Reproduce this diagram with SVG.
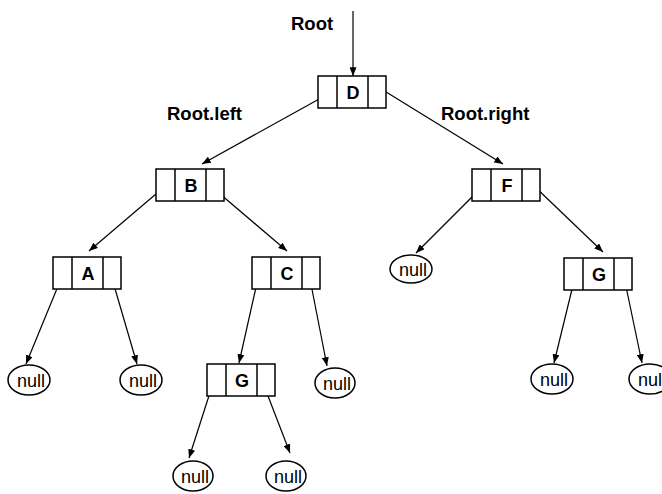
<svg xmlns="http://www.w3.org/2000/svg" width="662" height="494" viewBox="0 0 662 494">
  <defs>
    <marker id="arrow" viewBox="0 0 10 8" refX="10" refY="4" markerWidth="9" markerHeight="7" markerUnits="userSpaceOnUse" orient="auto">
      <path d="M0,0 L10,4 L0,8 Z" fill="#000"/>
    </marker>
    <!-- a tree node: left pointer cell, key cell, right pointer cell -->
    <g id="cell">
      <rect x="0" y="0" width="68" height="32" fill="#fff" stroke="#000" stroke-width="1.5"/>
      <line x1="19" y1="0" x2="19" y2="32" stroke="#000" stroke-width="1.5"/>
      <line x1="50" y1="0" x2="50" y2="32" stroke="#000" stroke-width="1.5"/>
    </g>
  </defs>
  <style>
    .key { font-family: "Liberation Sans", Arial, sans-serif; font-weight: bold; font-size: 18px; text-anchor: middle; }
    .lbl { font-family: "Liberation Sans", Arial, sans-serif; font-weight: bold; font-size: 18.5px; }
    .nul { font-family: "Liberation Sans", Arial, sans-serif; font-size: 18px; text-anchor: middle; }
    .oval { fill: #fff; stroke: #000; stroke-width: 1.5; }
    .edge { stroke: #000; stroke-width: 1.2; fill: none; marker-end: url(#arrow); }
  </style>
  <rect width="662" height="494" fill="#fff"/>

  <!-- labels -->
  <text class="lbl" x="291" y="30">Root</text>
  <text class="lbl" x="167" y="120">Root.left</text>
  <text class="lbl" x="441" y="120">Root.right</text>

  <!-- connectors -->
  <g id="edges">
    <line class="edge" x1="353" y1="11" x2="353" y2="76"/>
    <line class="edge" x1="330" y1="93" x2="202" y2="164"/>
    <line class="edge" x1="378" y1="87" x2="503" y2="164"/>
    <line class="edge" x1="163" y1="188" x2="89" y2="251"/>
    <line class="edge" x1="213" y1="188" x2="287" y2="251"/>
    <line class="edge" x1="63" y1="274" x2="26" y2="364"/>
    <line class="edge" x1="111" y1="275" x2="137" y2="364"/>
    <line class="edge" x1="259" y1="274" x2="239" y2="363"/>
    <line class="edge" x1="309" y1="274" x2="327" y2="366"/>
    <line class="edge" x1="481" y1="188" x2="416" y2="253"/>
    <line class="edge" x1="532" y1="184" x2="603" y2="252"/>
    <line class="edge" x1="575" y1="277" x2="554" y2="363"/>
    <line class="edge" x1="624" y1="277" x2="642" y2="363"/>
    <line class="edge" x1="215" y1="377" x2="189" y2="458"/>
    <line class="edge" x1="263" y1="383" x2="290" y2="453"/>
  </g>

  <!-- tree nodes -->
  <g id="node-D"><use href="#cell" x="318" y="76"/><text class="key" x="353" y="99">D</text></g>
  <g id="node-B"><use href="#cell" x="156" y="169"/><text class="key" x="191" y="192">B</text></g>
  <g id="node-F"><use href="#cell" x="472" y="169"/><text class="key" x="507" y="192">F</text></g>
  <g id="node-A"><use href="#cell" x="53" y="257"/><text class="key" x="88" y="280">A</text></g>
  <g id="node-C"><use href="#cell" x="252" y="257"/><text class="key" x="287" y="280">C</text></g>
  <g id="node-G1"><use href="#cell" x="564" y="258"/><text class="key" x="599" y="281">G</text></g>
  <g id="node-G2"><use href="#cell" x="207" y="364"/><text class="key" x="242" y="387">G</text></g>

  <!-- null leaves -->
  <g id="null-1"><ellipse class="oval" cx="29" cy="380" rx="21" ry="15"/><text class="nul" x="31" y="387">null</text></g>
  <g id="null-2"><ellipse class="oval" cx="141" cy="380" rx="21" ry="15"/><text class="nul" x="143" y="387">null</text></g>
  <g id="null-3"><ellipse class="oval" cx="335" cy="383" rx="20" ry="15"/><text class="nul" x="337" y="390">null</text></g>
  <g id="null-4"><ellipse class="oval" cx="411" cy="269" rx="21" ry="14"/><text class="nul" x="413" y="276">null</text></g>
  <g id="null-5"><ellipse class="oval" cx="552" cy="379" rx="21" ry="15"/><text class="nul" x="554" y="386">null</text></g>
  <g id="null-6"><ellipse class="oval" cx="650" cy="379" rx="21" ry="15"/><text class="nul" x="652" y="386">null</text></g>
  <g id="null-7"><ellipse class="oval" cx="193" cy="476" rx="20" ry="15"/><text class="nul" x="195" y="483">null</text></g>
  <g id="null-8"><ellipse class="oval" cx="286" cy="476" rx="20" ry="15"/><text class="nul" x="288" y="483">null</text></g>
</svg>
